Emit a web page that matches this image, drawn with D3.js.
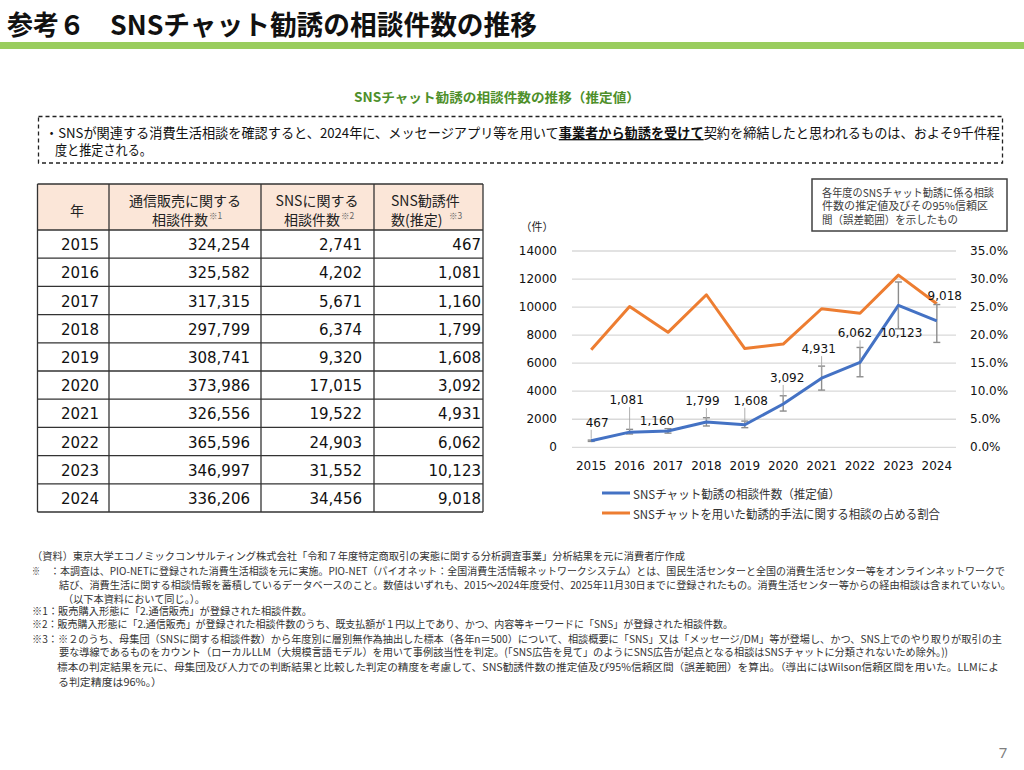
<!DOCTYPE html>
<html><head><meta charset="utf-8">
<script src="https://cdn.jsdelivr.net/npm/d3@7/dist/d3.min.js"></script>
<style>
html,body{margin:0;padding:0;background:#fff;}
svg{display:block;}
</style></head>
<body>
<svg id="page" width="1024" height="770"></svg>
<script>
// ---------- data ----------
const years = [2015, 2016, 2017, 2018, 2019, 2020, 2021, 2022, 2023, 2024];
const mailOrderCounts = [324254, 325582, 317315, 297799, 308741, 373986, 326556, 365596, 346997, 336206];
const snsCounts = [2741, 4202, 5671, 6374, 9320, 17015, 19522, 24903, 31552, 34456];
const snsSolicitEst = [467, 1081, 1160, 1799, 1608, 3092, 4931, 6062, 10123, 9018];
const ciLow = [420, 950, 1010, 1520, 1400, 2585, 4080, 5030, 8450, 7480];
const ciHigh = [515, 1280, 1330, 2110, 1870, 3675, 5790, 7120, 11790, 10180];
const chatShare = [0.174, 0.251, 0.205, 0.272, 0.176, 0.184, 0.247, 0.239, 0.307, 0.256];
const leftTicks = [0, 2000, 4000, 6000, 8000, 10000, 12000, 14000];
const rightTicks = [0, 0.05, 0.10, 0.15, 0.20, 0.25, 0.30, 0.35];
const legendLabels = ["SNSチャット勧誘の相談件数（推定値）", "SNSチャットを用いた勧誘的手法に関する相談の占める割合"];
const tableHeaders = [["年"], ["通信販売に関する", "相談件数", "※1"], ["SNSに関する", "相談件数", "※2"], ["SNS勧誘件", "数(推定)", "※3"]];

// ---------- layout (not data) ----------
const labelOffsets = [[6,-18],[-3,-32],[-11,-10],[-4,-21],[6,-24],[4,-26],[-3,-29],[-5,-29],[3,28],[8,-25]];

const JP = "'Noto Sans CJK JP','Noto Sans',sans-serif";
const NUM = "'DejaVu Sans',Verdana,sans-serif";
const svg = d3.select("#page");

// ---------- header ----------
svg.append("text").attr("x", 7).attr("y", 23).attr("dominant-baseline", "central")
  .style("font-family", JP).style("font-weight", "bold").style("font-size", "27px").attr("fill", "#111")
  .attr("textLength", 78).attr("lengthAdjust", "spacingAndGlyphs").text("参考６");
svg.append("text").attr("x", 110).attr("y", 23).attr("dominant-baseline", "central")
  .style("font-family", JP).style("font-weight", "bold").style("font-size", "27px").attr("fill", "#111")
  .attr("textLength", 427).attr("lengthAdjust", "spacingAndGlyphs").text("SNSチャット勧誘の相談件数の推移");
svg.append("rect").attr("x", 0).attr("y", 42).attr("width", 1024).attr("height", 7).attr("fill", "#9ACD5E");

svg.append("text").attr("x", 354).attr("y", 96).attr("dominant-baseline", "central")
  .style("font-family", JP).style("font-weight", "bold").style("font-size", "13px").attr("fill", "#4E8F2A")
  .attr("textLength", 286).attr("lengthAdjust", "spacingAndGlyphs").text("SNSチャット勧誘の相談件数の推移（推定値）");

svg.append("rect").attr("x", 38.5).attr("y", 116.5).attr("width", 964).attr("height", 46.5)
  .attr("fill", "none").attr("stroke", "#222").attr("stroke-width", 1.3).attr("stroke-dasharray", "4,3");
const l1 = svg.append("text").attr("x", 45).attr("y", 132).attr("dominant-baseline", "central")
  .style("font-family", JP).style("font-size", "13.5px").attr("fill", "#111")
  .attr("textLength", 955).attr("lengthAdjust", "spacingAndGlyphs");
l1.append("tspan").text("・SNSが関連する消費生活相談を確認すると、2024年に、メッセージアプリ等を用いて");
l1.append("tspan").style("font-weight", "bold").style("text-decoration", "underline").text("事業者から勧誘を受けて");
l1.append("tspan").text("契約を締結したと思われるものは、およそ9千件程");
svg.append("text").attr("x", 55).attr("y", 149).attr("dominant-baseline", "central")
  .style("font-family", JP).style("font-size", "13.5px").attr("fill", "#111")
  .attr("textLength", 97).attr("lengthAdjust", "spacingAndGlyphs").text("度と推定される。");

// ---------- table ----------
const colX = [37.5, 109, 261, 374, 483];
const headTop = 184, headBot = 230, rowH = 28.2;
const tbl = svg.append("g");
tbl.append("rect").attr("x", colX[0]).attr("y", headTop).attr("width", colX[4]-colX[0]).attr("height", headBot-headTop).attr("fill", "#FBE6D8");
const rowsY = d3.range(years.length + 1).map(i => headBot + i * rowH);
[headTop].concat(rowsY).forEach(y => tbl.append("line").attr("x1", colX[0]).attr("x2", colX[4]).attr("y1", y).attr("y2", y).attr("stroke", "#333").attr("stroke-width", 1.3));
colX.forEach(x => tbl.append("line").attr("x1", x).attr("x2", x).attr("y1", headTop).attr("y2", rowsY[rowsY.length-1]).attr("stroke", "#333").attr("stroke-width", 1.3));

const headText = (x, y, anchor, t) => tbl.append("text").attr("x", x).attr("y", y).attr("text-anchor", anchor)
  .attr("dominant-baseline", "central").style("font-family", JP).style("font-size", "14px").attr("fill", "#222").text(t);
const supText = (x, y, t) => tbl.append("text").attr("x", x).attr("y", y).attr("dominant-baseline", "central")
  .style("font-family", JP).style("font-size", "8.5px").attr("fill", "#666").text(t);
headText(77, 210, "middle", tableHeaders[0][0]);
headText(185, 200, "middle", tableHeaders[1][0]);
headText(180, 219, "middle", tableHeaders[1][1]);
supText(209, 215, tableHeaders[1][2]);
headText(317, 200, "middle", tableHeaders[2][0]);
headText(312, 219, "middle", tableHeaders[2][1]);
supText(341, 215, tableHeaders[2][2]);
headText(391, 200, "start", tableHeaders[3][0]);
headText(391, 219, "start", tableHeaders[3][1]);
supText(449, 215, tableHeaders[3][2]);

const fmt = d3.format(",");
years.forEach((yr, i) => {
  const cy = headBot + i * rowH + rowH / 2 + 1;
  const cell = (x, anchor, txt) => tbl.append("text").attr("x", x).attr("y", cy).attr("text-anchor", anchor)
    .attr("dominant-baseline", "central").style("font-family", NUM).style("font-size", "15px").attr("fill", "#111").text(txt);
  cell(80, "middle", yr);
  cell(250, "end", fmt(mailOrderCounts[i]));
  cell(362, "end", fmt(snsCounts[i]));
  cell(481, "end", fmt(snsSolicitEst[i]));
});

// ---------- chart ----------
const x = d3.scaleBand().domain(years).range([572, 956]).padding(0);
const yL = d3.scaleLinear().domain([0, 14000]).range([447.3, 251]);
const yR = d3.scaleLinear().domain([0, 0.35]).range([447.3, 251]);
const ch = svg.append("g");

ch.selectAll(".grid").data(leftTicks).join("line").attr("class", "grid")
  .attr("x1", 572).attr("x2", 956).attr("y1", d => yL(d)).attr("y2", d => yL(d))
  .attr("stroke", "#D9D9D9").attr("stroke-width", 1.3);
ch.selectAll(".lt").data(leftTicks).join("text").attr("class", "lt")
  .attr("x", 557).attr("y", d => yL(d)).attr("text-anchor", "end").attr("dominant-baseline", "central")
  .style("font-family", NUM).style("font-size", "12px").attr("fill", "#111").text(d => d);
ch.selectAll(".rt").data(rightTicks).join("text").attr("class", "rt")
  .attr("x", 970).attr("y", d => yR(d)).attr("dominant-baseline", "central")
  .style("font-family", NUM).style("font-size", "12px").attr("fill", "#111").text(d3.format(".1%"));
ch.selectAll(".xt").data(years).join("text").attr("class", "xt")
  .attr("x", d => x(d) + x.bandwidth() / 2).attr("y", 466).attr("text-anchor", "middle").attr("dominant-baseline", "central")
  .style("font-family", NUM).style("font-size", "12px").attr("fill", "#111").text(d => d);
ch.append("text").attr("x", 537).attr("y", 226).attr("text-anchor", "middle").attr("dominant-baseline", "central")
  .style("font-family", JP).style("font-size", "11px").attr("fill", "#222").text("（件）");

const cx = d => x(d) + x.bandwidth() / 2;
ch.append("path").datum(years.map((yr, i) => [cx(yr), yR(chatShare[i])]))
  .attr("d", d3.line()).attr("fill", "none").attr("stroke", "#ED7D31").attr("stroke-width", 3).attr("stroke-linejoin", "round");
years.forEach((yr, i) => {
  const g = ch.append("g").attr("stroke", "#8C8C8C").attr("stroke-width", 1.4);
  g.append("line").attr("x1", cx(yr)).attr("x2", cx(yr)).attr("y1", yL(ciLow[i])).attr("y2", yL(ciHigh[i]));
  [ciLow[i], ciHigh[i]].forEach(v => g.append("line").attr("x1", cx(yr) - 3.5).attr("x2", cx(yr) + 3.5).attr("y1", yL(v)).attr("y2", yL(v)));
});
ch.append("path").datum(years.map((yr, i) => [cx(yr), yL(snsSolicitEst[i])]))
  .attr("d", d3.line()).attr("fill", "none").attr("stroke", "#4472C4").attr("stroke-width", 3).attr("stroke-linejoin", "round");

years.forEach((yr, i) => {
  const px = cx(yr), py = yL(snsSolicitEst[i]);
  const lx = px + labelOffsets[i][0], ly = py + labelOffsets[i][1];
  const txt = fmt(snsSolicitEst[i]);
  const w = txt.length * 7.2, h = 14;
  const nx = Math.max(lx - w / 2, Math.min(px, lx + w / 2));
  const ny = Math.max(ly - h / 2, Math.min(py, ly + h / 2));
  const dist = Math.hypot(px - nx, py - ny);
  if (dist > 5) {
    ch.append("line").attr("x1", nx).attr("y1", ny).attr("x2", px + (nx - px) * 2 / dist).attr("y2", py + (ny - py) * 2 / dist)
      .attr("stroke", "#A6A6A6").attr("stroke-width", 0.9);
  }
  ch.append("text").attr("x", lx).attr("y", ly).attr("text-anchor", "middle").attr("dominant-baseline", "central")
    .style("font-family", NUM).style("font-size", "12px").attr("fill", "#111").text(txt);
});

ch.append("rect").attr("x", 812).attr("y", 179).attr("width", 195).attr("height", 52)
  .attr("fill", "#fff").attr("stroke", "#404040").attr("stroke-width", 1.5);
[["各年度のSNSチャット勧誘に係る相談", 191.5, 172], ["件数の推定値及びその95%信頼区", 205, 166], ["間（誤差範囲）を示したもの", 218.5, 136]].forEach(([t, y, w]) => {
  ch.append("text").attr("x", 822).attr("y", y).attr("dominant-baseline", "central")
    .style("font-family", JP).style("font-size", "11px").attr("fill", "#404040")
    .attr("textLength", w).attr("lengthAdjust", "spacingAndGlyphs").text(t);
});

const legColors = ["#4472C4", "#ED7D31"];
const legW = [207, 307];
legendLabels.forEach((lab, i) => {
  const y = 493 + i * 20;
  ch.append("line").attr("x1", 602).attr("x2", 630).attr("y1", y).attr("y2", y).attr("stroke", legColors[i]).attr("stroke-width", 3);
  ch.append("text").attr("x", 633).attr("y", y).attr("dominant-baseline", "central")
    .style("font-family", JP).style("font-size", "12px").attr("fill", "#333")
    .attr("textLength", legW[i]).attr("lengthAdjust", "spacingAndGlyphs").text(lab);
});

// ---------- footnotes ----------
const notes = [
  [32, 555.5, 653, "（資料）東京大学エコノミックコンサルティング株式会社「令和７年度特定商取引の実態に関する分析調査事業」分析結果を元に消費者庁作成"],
  [32, 570.5, 8, "※"],
  [50, 570.5, 955, "：本調査は、PIO-NETに登録された消費生活相談を元に実施。PIO-NET（パイオネット：全国消費生活情報ネットワークシステム）とは、国民生活センターと全国の消費生活センター等をオンラインネットワークで"],
  [59, 584, 952, "結び、消費生活に関する相談情報を蓄積しているデータベースのこと。数値はいずれも、2015～2024年度受付、2025年11月30日までに登録されたもの。消費生活センター等からの経由相談は含まれていない。"],
  [63, 598, 142, "（以下本資料において同じ。）。"],
  [32, 610.5, 280, "※1：販売購入形態に「2.通信販売」が登録された相談件数。"],
  [32, 623.5, 701, "※2：販売購入形態に「2.通信販売」が登録された相談件数のうち、既支払額が１円以上であり、かつ、内容等キーワードに「SNS」が登録された相談件数。"],
  [32, 638, 970, "※3：※２のうち、母集団（SNSに関する相談件数）から年度別に層別無作為抽出した標本（各年n＝500）について、相談概要に「SNS」又は「メッセージ/DM」等が登場し、かつ、SNS上でのやり取りが取引の主"],
  [59, 651.5, 889, "要な導線であるものをカウント（ローカルLLM（大規模言語モデル）を用いて事例該当性を判定。(「SNS広告を見て」のようにSNS広告が起点となる相談はSNSチャットに分類されないため除外。))"],
  [57, 666, 942, "標本の判定結果を元に、母集団及び人力での判断結果と比較した判定の精度を考慮して、SNS勧誘件数の推定値及び95%信頼区間（誤差範囲）を算出。（導出にはWilson信頼区間を用いた。LLMによ"],
  [58, 681, 104, "る判定精度は96%。）"]
];
notes.forEach(([nx, ny, w, t]) => {
  svg.append("text").attr("x", nx).attr("y", ny).attr("dominant-baseline", "central")
    .style("font-family", JP).style("font-size", w > 900 ? "10px" : "10.5px").attr("fill", "#333")
    .attr("textLength", w).attr("lengthAdjust", "spacingAndGlyphs").text(t);
});

svg.append("text").attr("x", 1003).attr("y", 752).attr("text-anchor", "middle").attr("dominant-baseline", "central")
  .style("font-family", "'Noto Sans',sans-serif").style("font-size", "15px").attr("fill", "#7F7F7F").text("7");
</script>
</body></html>
